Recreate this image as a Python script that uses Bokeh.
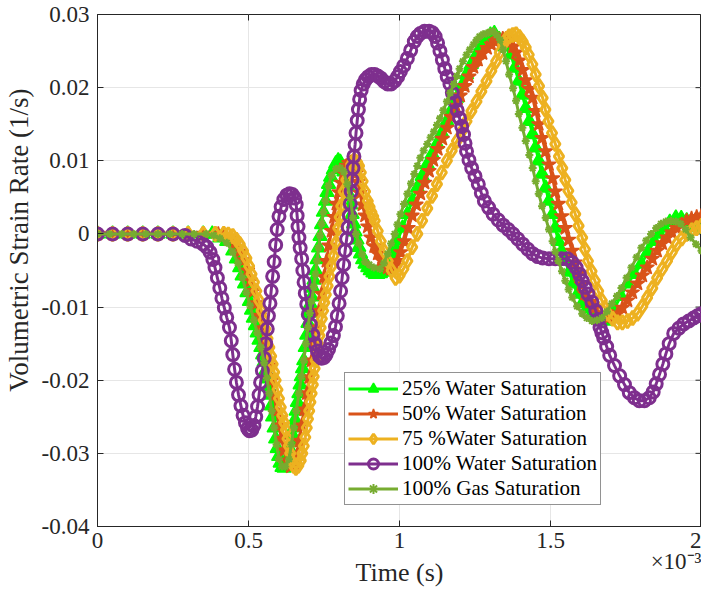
import math
from bokeh.plotting import figure
from bokeh.models import (Range1d, FixedTicker, CustomJSTickFormatter, LinearAxis,
                          Legend, LegendItem, Title)
from bokeh.embed import file_html
from bokeh.resources import INLINE

# ---------------- data: (time in ms, volumetric strain rate in 1/s) ----------------
pts_w25 = [(0, 0), (0.05, 0), (0.1, 0), (0.15, 0), (0.2, 0), (0.25, 0), (0.3, 0), (0.35, 0), (0.38, 0),
           (0.405, -0.0005), (0.428, -0.001), (0.448, -0.0023), (0.46, -0.0034), (0.471, -0.0046),
           (0.479, -0.0057), (0.487, -0.0068), (0.495, -0.008), (0.503, -0.0092), (0.51, -0.0104),
           (0.516, -0.0115), (0.523, -0.0125), (0.529, -0.0135), (0.535, -0.0145), (0.541, -0.0155),
           (0.547, -0.0165), (0.552, -0.0175), (0.557, -0.0187), (0.562, -0.0198), (0.567, -0.0209),
           (0.572, -0.022), (0.576, -0.0235), (0.58, -0.025), (0.585, -0.0265), (0.59, -0.028),
           (0.595, -0.0293), (0.6, -0.0304), (0.605, -0.0313), (0.611, -0.0319), (0.618, -0.032),
           (0.625, -0.0318), (0.63, -0.0312), (0.634, -0.0304), (0.638, -0.0295), (0.642, -0.0285),
           (0.646, -0.0275), (0.65, -0.0265), (0.654, -0.0254), (0.658, -0.0242), (0.662, -0.023),
           (0.667, -0.0218), (0.671, -0.0206), (0.675, -0.0195), (0.679, -0.0184), (0.683, -0.0173),
           (0.688, -0.0155), (0.693, -0.0138), (0.697, -0.0122), (0.701, -0.0108), (0.705, -0.0096),
           (0.709, -0.0086), (0.713, -0.0074), (0.717, -0.0063), (0.722, -0.005), (0.727, -0.0035),
           (0.732, -0.0019), (0.737, -0.0003), (0.742, 0.0013), (0.748, 0.003), (0.755, 0.0045),
           (0.76, 0.0057), (0.765, 0.0068), (0.772, 0.0078), (0.781, 0.0088), (0.789, 0.0096),
           (0.797, 0.01), (0.804, 0.0098), (0.81, 0.0092), (0.816, 0.0085), (0.822, 0.0076),
           (0.828, 0.0065), (0.833, 0.0053), (0.838, 0.004), (0.843, 0.0027), (0.848, 0.0014),
           (0.853, 0.0003), (0.859, -0.0008), (0.865, -0.0018), (0.871, -0.0027), (0.878, -0.0035),
           (0.886, -0.0041), (0.895, -0.0046), (0.903, -0.005), (0.912, -0.0053), (0.92, -0.0055),
           (0.928, -0.0055), (0.937, -0.0054), (0.945, -0.0052), (0.953, -0.0049), (0.961, -0.0044),
           (0.969, -0.0036), (0.977, -0.0027), (0.985, -0.0018), (0.993, -0.0009), (1.01, 0.0008),
           (1.026, 0.0027), (1.042, 0.0045), (1.059, 0.0063), (1.075, 0.0079), (1.092, 0.0095),
           (1.108, 0.0109), (1.124, 0.0123), (1.14, 0.0138), (1.157, 0.0154), (1.173, 0.017),
           (1.19, 0.0186), (1.206, 0.0202), (1.222, 0.0218), (1.238, 0.0232), (1.255, 0.0245),
           (1.271, 0.0257), (1.288, 0.0267), (1.301, 0.0272), (1.314, 0.0274), (1.33, 0.0266),
           (1.35, 0.0256), (1.369, 0.0245), (1.382, 0.0227), (1.395, 0.0209), (1.407, 0.019),
           (1.418, 0.0172), (1.43, 0.0154), (1.441, 0.0136), (1.451, 0.0118), (1.461, 0.01),
           (1.472, 0.0082), (1.484, 0.0063), (1.495, 0.0045), (1.507, 0.0027), (1.516, 0.0008),
           (1.526, -0.001), (1.537, -0.0024), (1.549, -0.0037), (1.562, -0.0052), (1.575, -0.0068),
           (1.59, -0.0082), (1.605, -0.0095), (1.621, -0.0102), (1.637, -0.0109), (1.658, -0.0116),
           (1.68, -0.0119), (1.696, -0.0112), (1.712, -0.0101), (1.733, -0.0085), (1.755, -0.0068),
           (1.778, -0.0055), (1.801, -0.0041), (1.822, -0.0025), (1.843, -0.001), (1.86, 0.0),
           (1.876, 0.0008), (1.895, 0.0016), (1.915, 0.0022), (1.933, 0.0021), (1.951, 0.0018),
           (1.968, 0.0013), (1.984, 0.0009), (2.0, 0.0007)]

pts_w50 = [(0, 0), (0.05, 0), (0.1, 0), (0.15, 0), (0.2, 0), (0.25, 0), (0.3, 0), (0.35, 0), (0.4, 0),
           (0.42, -0.0002), (0.438, -0.0006), (0.455, -0.0013), (0.471, -0.0024), (0.484, -0.0036),
           (0.497, -0.005), (0.507, -0.0064), (0.516, -0.0078), (0.526, -0.0095), (0.536, -0.0112),
           (0.544, -0.0129), (0.552, -0.0146), (0.56, -0.0163), (0.569, -0.018), (0.577, -0.02),
           (0.585, -0.0221), (0.593, -0.0242), (0.601, -0.0262), (0.609, -0.028), (0.618, -0.0296),
           (0.628, -0.031), (0.64, -0.0318), (0.651, -0.0314), (0.66, -0.0303), (0.668, -0.0283),
           (0.676, -0.0262), (0.684, -0.024), (0.693, -0.0218), (0.701, -0.0196), (0.709, -0.0173),
           (0.717, -0.015), (0.725, -0.0128), (0.733, -0.0105), (0.742, -0.0082), (0.75, -0.0059),
           (0.758, -0.0037), (0.766, -0.0016), (0.775, 0.0004), (0.783, 0.0023), (0.791, 0.0041),
           (0.799, 0.0057), (0.807, 0.007), (0.815, 0.0083), (0.824, 0.0093), (0.832, 0.0097),
           (0.84, 0.0098), (0.848, 0.0093), (0.856, 0.0083), (0.862, 0.0071), (0.869, 0.0056),
           (0.877, 0.004), (0.886, 0.0025), (0.895, 0.001), (0.905, -0.0005), (0.916, -0.0017),
           (0.928, -0.0027), (0.94, -0.0036), (0.951, -0.0042), (0.961, -0.0046), (0.971, -0.0048),
           (0.982, -0.0044), (0.993, -0.0037), (1.004, -0.0025), (1.016, -0.001), (1.029, 0.0008),
           (1.042, 0.0025), (1.055, 0.004), (1.069, 0.0055), (1.083, 0.007), (1.098, 0.0086),
           (1.112, 0.0101), (1.127, 0.0116), (1.142, 0.013), (1.157, 0.0145), (1.171, 0.016),
           (1.186, 0.0175), (1.201, 0.0189), (1.216, 0.0202), (1.23, 0.0215), (1.245, 0.0228),
           (1.26, 0.0238), (1.275, 0.0247), (1.29, 0.0254), (1.304, 0.0259), (1.317, 0.0263),
           (1.33, 0.0266), (1.342, 0.0267), (1.353, 0.0267), (1.365, 0.0262), (1.376, 0.0256),
           (1.386, 0.0248), (1.397, 0.0237), (1.408, 0.0224), (1.418, 0.021), (1.43, 0.0198),
           (1.441, 0.0186), (1.451, 0.0168), (1.461, 0.015), (1.472, 0.0131), (1.484, 0.0113),
           (1.495, 0.0095), (1.507, 0.0076), (1.516, 0.0058), (1.526, 0.0041), (1.537, 0.0024),
           (1.549, 0.0008), (1.56, -0.0008), (1.572, -0.0023), (1.581, -0.0039), (1.591, -0.0055),
           (1.602, -0.0069), (1.614, -0.0082), (1.63, -0.0093), (1.647, -0.0101), (1.668, -0.011),
           (1.69, -0.0115), (1.706, -0.0113), (1.722, -0.0109), (1.738, -0.0101), (1.755, -0.0091),
           (1.771, -0.008), (1.788, -0.0068), (1.804, -0.0057), (1.82, -0.0046), (1.837, -0.0034),
           (1.853, -0.0023), (1.87, -0.0013), (1.886, -0.0005), (1.902, 0.0002), (1.918, 0.0008),
           (1.935, 0.0013), (1.951, 0.0018), (1.967, 0.0021), (1.984, 0.0023), (2.0, 0.0025)]

pts_w75 = [(0, 0), (0.05, 0), (0.1, 0), (0.15, 0), (0.2, 0), (0.25, 0), (0.3, 0), (0.35, 0), (0.39, 0),
           (0.418, 0.0), (0.433, -0.0001), (0.448, -0.0003), (0.46, -0.0008), (0.471, -0.0014),
           (0.482, -0.0023), (0.493, -0.0033), (0.502, -0.0044), (0.51, -0.0055), (0.518, -0.0066),
           (0.526, -0.0078), (0.535, -0.0091), (0.543, -0.0105), (0.55, -0.0118), (0.556, -0.013),
           (0.563, -0.0143), (0.569, -0.0155), (0.575, -0.0167), (0.58, -0.0178), (0.585, -0.0189),
           (0.59, -0.02), (0.596, -0.0213), (0.601, -0.0225), (0.607, -0.0237), (0.612, -0.0248),
           (0.618, -0.0258), (0.624, -0.0268), (0.629, -0.028), (0.633, -0.029), (0.638, -0.03),
           (0.642, -0.031), (0.649, -0.0317), (0.657, -0.032), (0.665, -0.0317), (0.673, -0.031),
           (0.678, -0.03), (0.683, -0.029), (0.688, -0.0278), (0.693, -0.0265), (0.697, -0.0253),
           (0.701, -0.0242), (0.705, -0.023), (0.709, -0.0218), (0.713, -0.0206), (0.716, -0.0195),
           (0.719, -0.0184), (0.722, -0.0173), (0.726, -0.0161), (0.73, -0.015), (0.735, -0.0139),
           (0.739, -0.0128), (0.743, -0.0116), (0.747, -0.0105), (0.751, -0.0094), (0.756, -0.0083),
           (0.762, -0.0071), (0.768, -0.0058), (0.775, -0.0044), (0.782, -0.003), (0.79, -0.0012),
           (0.797, 0.0008), (0.802, 0.0023), (0.807, 0.0038), (0.815, 0.0058), (0.824, 0.0074),
           (0.832, 0.0086), (0.84, 0.0095), (0.85, 0.0101), (0.86, 0.0098), (0.866, 0.0093),
           (0.872, 0.0084), (0.878, 0.0072), (0.886, 0.0058), (0.895, 0.0045), (0.901, 0.0037),
           (0.907, 0.003), (0.913, 0.0024), (0.918, 0.0018), (0.928, 0.0004), (0.938, -0.001),
           (0.95, -0.0024), (0.961, -0.0037), (0.974, -0.005), (0.987, -0.006), (1.0, -0.0057),
           (1.013, -0.0048), (1.026, -0.0037), (1.042, -0.0018), (1.059, 0.0), (1.075, 0.0018),
           (1.092, 0.0035), (1.108, 0.0052), (1.124, 0.0068), (1.14, 0.0084), (1.157, 0.01),
           (1.173, 0.0114), (1.19, 0.0127), (1.206, 0.014), (1.222, 0.0154), (1.238, 0.0168),
           (1.255, 0.0181), (1.271, 0.0195), (1.288, 0.0209), (1.304, 0.0223), (1.32, 0.0236),
           (1.332, 0.0248), (1.343, 0.0259), (1.353, 0.0266), (1.363, 0.027), (1.375, 0.0272),
           (1.386, 0.0273), (1.397, 0.0269), (1.408, 0.0263), (1.418, 0.0255), (1.428, 0.0245),
           (1.44, 0.0232), (1.451, 0.0218), (1.462, 0.0202), (1.474, 0.0186), (1.483, 0.017),
           (1.493, 0.0154), (1.505, 0.0138), (1.516, 0.0123), (1.528, 0.0106), (1.539, 0.009),
           (1.549, 0.0074), (1.559, 0.0059), (1.57, 0.0043), (1.582, 0.0027), (1.593, 0.0011),
           (1.605, -0.0005), (1.614, -0.0021), (1.624, -0.0037), (1.636, -0.0051), (1.647, -0.0064),
           (1.658, -0.0078), (1.67, -0.0091), (1.68, -0.0101), (1.69, -0.0109), (1.706, -0.0116),
           (1.722, -0.0121), (1.738, -0.0121), (1.755, -0.0119), (1.772, -0.0115), (1.788, -0.0109),
           (1.804, -0.0099), (1.82, -0.0087), (1.837, -0.0074), (1.853, -0.006), (1.87, -0.0048),
           (1.886, -0.0037), (1.902, -0.0025), (1.918, -0.0014), (1.935, -0.0006), (1.951, 0.0),
           (1.968, 0.0005), (1.984, 0.0008), (2.0, 0.0011)]

pts_w100 = [(0, 0), (0.05, 0), (0.1, 0), (0.15, 0), (0.2, 0), (0.25, 0), (0.29, -0.0002), (0.31, -0.0007),
            (0.33, -0.001), (0.35, -0.0014), (0.362, -0.0018), (0.373, -0.0025), (0.382, -0.0035),
            (0.389, -0.0046), (0.397, -0.006), (0.405, -0.0074), (0.412, -0.0088), (0.42, -0.0101),
            (0.428, -0.0114), (0.437, -0.0128), (0.443, -0.0146), (0.448, -0.0165), (0.454, -0.0185),
            (0.46, -0.0203), (0.467, -0.022), (0.475, -0.0235), (0.482, -0.0248), (0.49, -0.0258),
            (0.497, -0.0266), (0.503, -0.0269), (0.511, -0.0268), (0.518, -0.0262), (0.524, -0.025),
            (0.53, -0.0236), (0.535, -0.022), (0.54, -0.0203), (0.546, -0.0187), (0.552, -0.017),
            (0.557, -0.015), (0.562, -0.013), (0.566, -0.0112), (0.571, -0.0095), (0.575, -0.0078),
            (0.58, -0.0058), (0.585, -0.0038), (0.59, -0.0015), (0.595, 0.0006), (0.601, 0.0024),
            (0.608, 0.0037), (0.617, 0.0047), (0.627, 0.0053), (0.636, 0.0055), (0.645, 0.0054),
            (0.653, 0.0049), (0.658, 0.004), (0.661, 0.0025), (0.664, 0.001), (0.667, -0.0005),
            (0.671, -0.0019), (0.676, -0.0034), (0.68, -0.005), (0.684, -0.0066), (0.688, -0.0081),
            (0.693, -0.0096), (0.698, -0.011), (0.705, -0.0124), (0.713, -0.0138), (0.72, -0.015),
            (0.728, -0.016), (0.735, -0.0167), (0.742, -0.017), (0.75, -0.0169), (0.757, -0.0165),
            (0.765, -0.0158), (0.773, -0.0149), (0.781, -0.0139), (0.788, -0.0127), (0.794, -0.0112),
            (0.8, -0.0095), (0.805, -0.0078), (0.81, -0.006), (0.815, -0.0042), (0.82, -0.0023),
            (0.825, -0.0007), (0.83, 0.0009), (0.834, 0.0025), (0.837, 0.0041), (0.84, 0.0058),
            (0.843, 0.0074), (0.846, 0.009), (0.849, 0.0106), (0.853, 0.0122), (0.856, 0.0138),
            (0.86, 0.0155), (0.864, 0.017), (0.868, 0.0184), (0.873, 0.0196), (0.88, 0.0205),
            (0.888, 0.0211), (0.897, 0.0215), (0.907, 0.0218), (0.918, 0.0218), (0.928, 0.0216),
            (0.938, 0.0213), (0.95, 0.0208), (0.961, 0.0205), (0.972, 0.0205), (0.984, 0.0209),
            (0.994, 0.0215), (1.003, 0.0222), (1.014, 0.023), (1.026, 0.024), (1.037, 0.0251),
            (1.049, 0.0263), (1.059, 0.027), (1.069, 0.0274), (1.083, 0.0277), (1.098, 0.0277),
            (1.109, 0.0275), (1.118, 0.027), (1.126, 0.0261), (1.134, 0.025), (1.142, 0.0238),
            (1.15, 0.0226), (1.158, 0.0215), (1.167, 0.0205), (1.175, 0.0193), (1.183, 0.0181),
            (1.191, 0.0169), (1.199, 0.0158), (1.206, 0.0147), (1.212, 0.0136), (1.217, 0.0124),
            (1.222, 0.0113), (1.23, 0.0101), (1.239, 0.009), (1.25, 0.0079), (1.261, 0.0068),
            (1.271, 0.0056), (1.281, 0.0045), (1.295, 0.0036), (1.31, 0.0027), (1.327, 0.0019),
            (1.343, 0.0012), (1.36, 0.0006), (1.376, 0.0), (1.392, -0.0007), (1.408, -0.0014),
            (1.425, -0.0021), (1.441, -0.0027), (1.458, -0.0031), (1.474, -0.0033), (1.495, -0.0034),
            (1.516, -0.0034), (1.536, -0.0034), (1.556, -0.0034), (1.572, -0.0039), (1.585, -0.0046),
            (1.596, -0.0055), (1.605, -0.0064), (1.615, -0.0073), (1.624, -0.0082), (1.637, -0.0093),
            (1.65, -0.0105), (1.658, -0.0117), (1.664, -0.0128), (1.67, -0.0135), (1.676, -0.0142),
            (1.686, -0.0154), (1.696, -0.0166), (1.712, -0.018), (1.729, -0.0194), (1.745, -0.0206),
            (1.761, -0.0217), (1.778, -0.0224), (1.794, -0.0228), (1.811, -0.0228), (1.827, -0.0224),
            (1.84, -0.0216), (1.85, -0.0205), (1.861, -0.0192), (1.872, -0.0178), (1.882, -0.0164),
            (1.893, -0.015), (1.908, -0.0136), (1.925, -0.0129), (1.941, -0.0123), (1.958, -0.0119),
            (1.974, -0.0115), (1.987, -0.0112), (2.0, -0.0109)]

pts_gas = [(0, 0), (0.04, 0), (0.08, 0), (0.12, 0), (0.16, 0), (0.2, 0), (0.24, 0), (0.28, 0), (0.32, 0),
           (0.36, 0), (0.385, -0.0002), (0.405, -0.0006), (0.428, -0.0012), (0.448, -0.0025),
           (0.465, -0.004), (0.48, -0.006), (0.493, -0.008), (0.505, -0.0098), (0.518, -0.0118),
           (0.529, -0.0135), (0.541, -0.0155), (0.552, -0.0176), (0.561, -0.0197), (0.569, -0.0218),
           (0.577, -0.0242), (0.585, -0.0265), (0.593, -0.0288), (0.601, -0.0308), (0.611, -0.0318),
           (0.622, -0.0318), (0.634, -0.0308), (0.642, -0.0288), (0.65, -0.0265), (0.658, -0.0242),
           (0.667, -0.0218), (0.675, -0.0195), (0.683, -0.0173), (0.69, -0.015), (0.697, -0.0128),
           (0.703, -0.0108), (0.709, -0.0092), (0.716, -0.0072), (0.722, -0.0055), (0.727, -0.0037),
           (0.732, -0.0019), (0.737, -0.0002), (0.742, 0.0014), (0.748, 0.003), (0.755, 0.0045),
           (0.765, 0.0066), (0.775, 0.008), (0.79, 0.0089), (0.804, 0.009), (0.815, 0.0085),
           (0.827, 0.0068), (0.837, 0.0049), (0.846, 0.0022), (0.856, 0.0), (0.865, -0.0013),
           (0.876, -0.0028), (0.886, -0.0038), (0.9, -0.0042), (0.915, -0.0046), (0.935, -0.0048),
           (0.948, -0.004), (0.961, -0.0027), (0.972, -0.0013), (0.984, 0.0), (0.993, 0.0013),
           (1.003, 0.0027), (1.015, 0.0041), (1.026, 0.0055), (1.038, 0.0069), (1.049, 0.0082),
           (1.059, 0.0093), (1.069, 0.0104), (1.08, 0.0114), (1.092, 0.0123), (1.103, 0.0132),
           (1.114, 0.014), (1.124, 0.0149), (1.134, 0.0158), (1.145, 0.0169), (1.157, 0.0181),
           (1.168, 0.0193), (1.18, 0.0205), (1.19, 0.0216), (1.199, 0.0226), (1.21, 0.0236),
           (1.222, 0.0245), (1.233, 0.0252), (1.245, 0.0259), (1.255, 0.0265), (1.265, 0.027),
           (1.277, 0.0273), (1.288, 0.0274), (1.299, 0.0276), (1.31, 0.0277), (1.322, 0.0272),
           (1.333, 0.0265), (1.343, 0.0252), (1.353, 0.0236), (1.363, 0.0218), (1.376, 0.0199),
           (1.386, 0.0182), (1.395, 0.0164), (1.407, 0.0145), (1.418, 0.0127), (1.43, 0.0108),
           (1.441, 0.009), (1.451, 0.0072), (1.461, 0.0055), (1.472, 0.0038), (1.484, 0.0022),
           (1.495, 0.0006), (1.507, -0.001), (1.516, -0.0024), (1.526, -0.0037), (1.538, -0.0051),
           (1.549, -0.0064), (1.56, -0.0076), (1.572, -0.0087), (1.588, -0.0099), (1.605, -0.0109),
           (1.62, -0.0115), (1.637, -0.0119), (1.654, -0.0118), (1.67, -0.0115), (1.687, -0.0106),
           (1.703, -0.0095), (1.72, -0.0085), (1.735, -0.0074), (1.752, -0.006), (1.768, -0.0046),
           (1.785, -0.0032), (1.801, -0.0019), (1.817, -0.0009), (1.833, 0.0), (1.85, 0.0008),
           (1.866, 0.0014), (1.882, 0.0017), (1.899, 0.0018), (1.915, 0.0017), (1.931, 0.0014),
           (1.948, 0.0006), (1.964, -0.0005), (1.982, -0.0014), (2.0, -0.0023)]

series_names = ["25% Water Saturation", "50% Water Saturation", "75 %Water Saturation",
                "100% Water Saturation", "100% Gas Saturation"]
x_ticks = [0, 0.5, 1, 1.5, 2]
y_ticks = [-0.04, -0.03, -0.02, -0.01, 0, 0.01, 0.02, 0.03]
x_lim = (0, 2)
y_lim = (-0.04, 0.03)

FONT = "Liberation Serif"
TXT = "#262626"

p = figure(width=701, height=597, output_backend="svg", toolbar_location=None,
           x_range=Range1d(*x_lim), y_range=Range1d(*y_lim),
           min_border_left=87, min_border_top=22, min_border_right=0, min_border_bottom=0)
# use the page's top and bottom margins so the whole still fits the window
p.styles = {"margin-top": "-8px", "margin-bottom": "-8px"}
p.outline_line_color = TXT
p.background_fill_color = "white"

fmt = CustomJSTickFormatter(code="return String(Number(tick.toFixed(3)));")

for ax in (p.xaxis[0], p.yaxis[0]):
    ax.axis_line_color = TXT
    ax.major_tick_line_color = TXT
    ax.minor_tick_line_color = None
    ax.major_tick_in = 6
    ax.major_tick_out = 0
    ax.major_label_text_font = FONT
    ax.major_label_text_font_size = "23px"
    ax.major_label_text_color = TXT
    ax.axis_label_text_font = FONT
    ax.axis_label_text_font_style = "normal"
    ax.axis_label_text_font_size = "27px"
    ax.axis_label_text_color = TXT
    ax.formatter = fmt

p.xaxis.ticker = FixedTicker(ticks=x_ticks)
p.yaxis.ticker = FixedTicker(ticks=y_ticks)
p.xaxis.major_label_standoff = 6
p.yaxis.major_label_standoff = 8
p.yaxis.axis_label = "\u00a0" * 9 + "Volumetric Strain Rate (1/s)"
p.yaxis.axis_label_standoff = 5

# exponent note under the right end of the time axis
exp_title = Title(text="\u00d710\u207b\u00b3", align="right", text_font=FONT, text_font_size="23px",
                  text_font_style="normal", text_color=TXT, standoff=-7)
p.add_layout(exp_title, "below")

# axis carrying only the "Time (s)" label
t_axis = LinearAxis(ticker=FixedTicker(ticks=[]), axis_line_color=None, major_tick_line_color=None,
                    minor_tick_line_color=None, major_tick_in=0, major_tick_out=0,
                    major_label_standoff=0,
                    axis_label="Time (s)", axis_label_text_font=FONT, axis_label_text_font_size="26px",
                    axis_label_text_font_style="normal", axis_label_text_color=TXT,
                    axis_label_standoff=-13)
p.add_layout(t_axis, "below")

p.xgrid.ticker = FixedTicker(ticks=x_ticks)
p.ygrid.ticker = FixedTicker(ticks=y_ticks)
p.grid.grid_line_color = "#e6e6e6"
p.grid.grid_line_width = 1

# inward ticks on the right and top edges of the box (half of each dash is clipped by the frame)
p.scatter([x_lim[1]] * len(y_ticks), y_ticks, marker="dash", size=12, line_color=TXT, line_width=1)
p.scatter(x_ticks, [y_lim[1]] * len(x_ticks), marker="dash", angle=math.pi / 2, size=12,
          line_color=TXT, line_width=1)

LW = 3
items = []

def add_series(pts, color, marker, size, fill, name, mlw):
    xs = [a for a, b in pts]
    ys = [b for a, b in pts]
    lr = p.line(xs, ys, line_color=color, line_width=LW)
    sr = p.scatter(xs, ys, marker=marker, size=size, line_color=color, line_width=mlw,
                   fill_color=color if fill else None, fill_alpha=1.0 if fill else 0.0)
    items.append(LegendItem(label=name, renderers=[lr, sr]))

add_series(pts_w25, "#00FF00", "triangle", 14, True, series_names[0], 1.5)
add_series(pts_w50, "#D95319", "star", 15, True, series_names[1], 1.5)
add_series(pts_w75, "#EDB120", "diamond", 14, False, series_names[2], 3)
add_series(pts_w100, "#7E2F8E", "circle", 12, False, series_names[3], 3)
add_series(pts_gas, "#77AC30", "asterisk", 8, False, series_names[4], 2)

legend = Legend(items=items, location=(247, 21))
legend.label_text_font = FONT
legend.label_text_font_size = "21px"
legend.label_text_color = "black"
legend.border_line_color = TXT
legend.border_line_width = 1
legend.background_fill_color = "white"
legend.background_fill_alpha = 1
legend.glyph_width = 50
legend.glyph_height = 25
legend.label_height = 25
legend.label_standoff = 4
legend.spacing = 0
legend.padding = 3
legend.margin = 0
p.add_layout(legend)

open("out.html", "w").write(file_html(p, INLINE))
